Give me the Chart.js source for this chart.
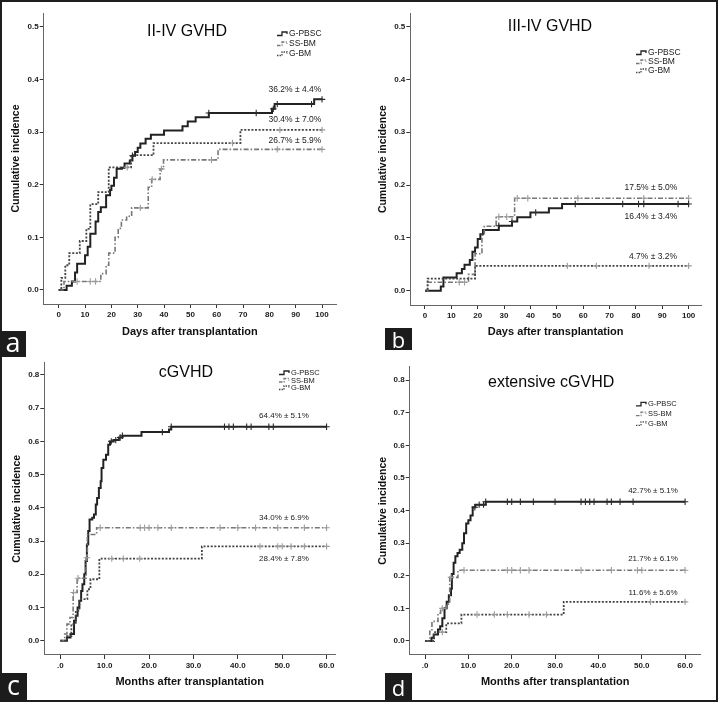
<!DOCTYPE html>
<html><head><meta charset="utf-8">
<script src="https://cdn.jsdelivr.net/npm/chart.js@4.4.0/dist/chart.umd.min.js"></script>
<style>
html,body{margin:0;padding:0;background:#fff;}
#frame{position:absolute;left:0;top:0;width:718px;height:702px;box-sizing:border-box;border:2px solid #1e1e1e;}
canvas{position:absolute;}
.tag{position:absolute;background:#1c1c1c;color:#fff;font-family:"Open Sans",sans-serif;display:flex;align-items:center;justify-content:center;line-height:1;box-sizing:border-box;}
</style></head><body>
<div id="frame"></div>
<canvas id="ca" width="358" height="351" style="left:0;top:0"></canvas>
<canvas id="cb" width="358" height="351" style="left:358px;top:0"></canvas>
<canvas id="cc" width="358" height="351" style="left:0;top:351px"></canvas>
<canvas id="cd" width="358" height="351" style="left:358px;top:351px"></canvas>
<div class="tag" style="left:0;top:331px;width:26px;height:26px;font-size:27px;padding-bottom:6px">a</div>
<div class="tag" style="left:385px;top:328px;width:27px;height:22px;font-size:22px">b</div>
<div class="tag" style="left:0;top:673px;width:27px;height:28px;font-size:27px;padding-bottom:6px">c</div>
<div class="tag" style="left:385px;top:673px;width:27px;height:27px;font-size:22px">d</div>
<script>
// ===== DATA =====
const panelTitles = ['II-IV GVHD', 'III-IV GVHD', 'cGVHD', 'extensive cGVHD'];
const seriesNames = ['G-PBSC', 'SS-BM', 'G-BM'];
const xAxisTitles = ['Days after transplantation', 'Days after transplantation', 'Months after transplantation', 'Months after transplantation'];
const yAxisTitle = 'Cumulative incidence';

const dayTicks = [0, 10, 20, 30, 40, 50, 60, 70, 80, 90, 100];
const dayTickLabels = ['0', '10', '20', '30', '40', '50', '60', '70', '80', '90', '100'];
const monthTicks = [0, 10, 20, 30, 40, 50, 60];
const monthTickLabels = ['.0', '10.0', '20.0', '30.0', '40.0', '50.0', '60.0'];
const agvhdTicks = [0, 0.1, 0.2, 0.3, 0.4, 0.5];
const agvhdTickLabels = ['0.0', '0.1', '0.2', '0.3', '0.4', '0.5'];
const cgvhdTicks = [0, 0.1, 0.2, 0.3, 0.4, 0.5, 0.6, 0.7, 0.8];
const cgvhdTickLabels = ['0.0', '0.1', '0.2', '0.3', '0.4', '0.5', '0.6', '0.7', '0.8'];

// Panel a: II-IV GVHD
const aPbscT = [0,3,5,6.2,7,10,11,12,14,15,16,18,19.5,20,21,22,24,25,27,28,29,30,31,33,35,40,47,49,52,57,81,82,97,100];
const aPbscV = [0,.008,.016,.033,.05,.066,.082,.107,.13,.148,.157,.18,.19,.198,.213,.23,.232,.24,.246,.255,.262,.27,.278,.287,.295,.303,.311,.32,.328,.336,.344,.353,.362,.362];
const aPbscCens = [28,57,75,81.5,83,96,100];
const aSsbmT = [0,2,16,18,19,21.4,22.6,23.8,25.8,27.7,34,35.3,38.5,39.8,60.5,100];
const aSsbmV = [0,.016,.031,.047,.07,.1,.117,.133,.14,.156,.195,.21,.23,.247,.267,.267];
const aSsbmCens = [7,12,14,31,35.5,39,58,83,100];
const aGbmT = [0,1,2.5,4,8,10.5,12,15,19,27.5,36,69,100];
const aGbmV = [0,.023,.047,.07,.093,.116,.163,.186,.233,.256,.279,.304,.304];
const aGbmCens = [26,66,84,100];
const aNotes = ['36.2% \u00b1 4.4%', '30.4% \u00b1 7.0%', '26.7% \u00b1 5.9%'];

// Panel b: III-IV GVHD
const bPbscT = [0,6,7,12,14,15,17,18,19,20,21,22,28,33,35,40,47,52,100];
const bPbscV = [0,.008,.025,.033,.041,.049,.058,.074,.082,.098,.107,.115,.123,.131,.139,.148,.156,.164,.164];
const bPbscCens = [28,33,42,57,75,81,83,96,100];
const bSsbmT = [0,1,16.5,19,21.6,22.5,27,34,100];
const bSsbmV = [0,.016,.031,.07,.105,.122,.14,.175,.175];
const bSsbmCens = [13,15,28,31,35,39,58,83,100];
const bGbmT = [0,1,19,100];
const bGbmV = [0,.023,.047,.047];
const bGbmCens = [54,65,85,100];
const bNotes = ['17.5% \u00b1 5.0%', '16.4% \u00b1 3.4%', '4.7% \u00b1 3.2%'];

// Panel c: cGVHD
const cPbscT = [0,1.5,2.3,3.1,3.5,3.9,4.3,4.7,5.0,5.4,5.7,6.0,6.3,6.6,7.2,7.6,8.0,8.3,8.7,9.1,9.3,9.7,10.3,10.8,11.2,12.0,13.2,14,18.3,24.5,25,60];
const cPbscV = [0,.01,.02,.06,.075,.1,.12,.15,.17,.2,.24,.29,.33,.365,.37,.38,.41,.43,.46,.48,.52,.545,.56,.59,.6,.604,.612,.617,.628,.636,.644,.644];
const cPbscCens = [11.5,12.5,13.5,14,23,25,37,38,39,42,43,47,48,60];
const cSsbmT = [0,1,1.5,2.2,2.9,3.8,5.8,6.1,8.2,60];
const cSsbmV = [0,.02,.05,.07,.145,.188,.25,.32,.34,.34];
const cSsbmCens = [3,4,6,9,18,19,20,22,25,36,40,44,49,55,60];
const cGbmT = [0,1.5,2.5,3.5,4.3,6.1,6.8,8.8,31.9,60];
const cGbmV = [0,.014,.05,.09,.125,.155,.185,.247,.284,.284];
const cGbmCens = [11.6,14.2,17.9,45,49,50,52,55,60];
const cNotes = ['64.4% \u00b1 5.1%', '34.0% \u00b1 6.9%', '28.4% \u00b1 7.8%'];

// Panel d: extensive cGVHD
const dPbscT = [0,1.5,2,3,3.5,4,4.5,5,5.5,6,6.2,6.6,7,7.5,8,8.6,9,9.5,10,10.5,11,11.6,14,60];
const dPbscV = [0,.01,.02,.035,.045,.07,.1,.12,.14,.16,.205,.24,.26,.27,.28,.3,.33,.36,.37,.385,.41,.418,.427,.427];
const dPbscCens = [11.5,12.5,13.5,14,19,20,22,25,30,36,37,38,39,42,43,45,48,60];
const dSsbmT = [0,1.1,1.6,3,3.6,4.9,5.7,7.6,60];
const dSsbmV = [0,.03,.06,.085,.1,.113,.195,.217,.217];
const dSsbmCens = [4,6,9,19,20,22,24,36,43,49,50,60];
const dGbmT = [0,2.1,4.9,8.4,32,60];
const dGbmV = [0,.027,.054,.081,.12,.12];
const dGbmCens = [4,12,16,19,24,28,52,60];
const dNotes = ['42.7% \u00b1 5.1%', '21.7% \u00b1 6.1%', '11.6% \u00b1 5.6%'];

// ===== LAYOUT / STYLE =====
const FONT = '"Liberation Sans", Arial, sans-serif';
const seriesStyle = [
  {color:'#222222', width:2, dash:[], cens:'#2a2a2a'},
  {color:'#777777', width:1.6, dash:[5,2,1.5,2], cens:'#9c9c9c'},
  {color:'#444444', width:1.8, dash:[2,1.6], cens:'#9c9c9c'}
];
const layouts = [
  {id:'ca', W:358, H:351, area:[43.7,13,336,304], yTitleX:16, xTitleY:332, xr:[-5.7,105.3], yr:[-0.0266,0.526],
   titleAt:[48.7,0.491], notesAt:[[89.7,0.381],[89.7,0.324],[89.7,0.283]], noteSize:8.5,
   legend:{x:277,y:34,dy:10,size:8.5}},
  {id:'cb', W:358, H:351, area:[52.3,13.3,343,305], yTitleX:25, xTitleY:332, xr:[-5.57,104.7], yr:[-0.027,0.525],
   titleAt:[47.4,0.499], notesAt:[[85.7,0.1945],[85.7,0.1396],[86.5,0.0638]], noteSize:8.5,
   legend:{x:278,y:53,dy:9,size:8.5}},
  {id:'cc', W:358, H:351, area:[44.3,11.7,335,304], yTitleX:17, xTitleY:331, xr:[-3.6,61.9], yr:[-0.043,0.837],
   titleAt:[28.3,0.806], notesAt:[[50.4,0.677],[50.4,0.369],[50.4,0.246]], noteSize:8,
   legend:{x:279,y:22,dy:7.5,size:7.5}},
  {id:'cd', W:358, H:351, area:[51.7,15.7,342.7,304], yTitleX:25, xTitleY:330.7, xr:[-3.53,63.6], yr:[-0.043,0.841],
   titleAt:[29.1,0.791], notesAt:[[52.6,0.46],[52.6,0.251],[52.6,0.147]], noteSize:8,
   legend:{x:278,y:53.3,dy:9.8,size:7.5}}
];

const panels = [
  {series:[[aPbscT,aPbscV,aPbscCens],[aSsbmT,aSsbmV,aSsbmCens],[aGbmT,aGbmV,aGbmCens]], notes:aNotes,
   xt:dayTicks, xl:dayTickLabels, yt:agvhdTicks, yl:agvhdTickLabels},
  {series:[[bPbscT,bPbscV,bPbscCens],[bSsbmT,bSsbmV,bSsbmCens],[bGbmT,bGbmV,bGbmCens]], notes:bNotes,
   xt:dayTicks, xl:dayTickLabels, yt:agvhdTicks, yl:agvhdTickLabels},
  {series:[[cPbscT,cPbscV,cPbscCens],[cSsbmT,cSsbmV,cSsbmCens],[cGbmT,cGbmV,cGbmCens]], notes:cNotes,
   xt:monthTicks, xl:monthTickLabels, yt:cgvhdTicks, yl:cgvhdTickLabels},
  {series:[[dPbscT,dPbscV,dPbscCens],[dSsbmT,dSsbmV,dSsbmCens],[dGbmT,dGbmV,dGbmCens]], notes:dNotes,
   xt:monthTicks, xl:monthTickLabels, yt:cgvhdTicks, yl:cgvhdTickLabels}
];

function stepValue(T, V, t) {
  let v = V[0];
  for (let i = 0; i < T.length; i++) if (T[i] <= t) v = V[i];
  return v;
}

function buildChart(pi) {
  const P = panels[pi], L = layouts[pi];
  const yTitleSize = 10.5, xTitleSize = 11;
  const padLeft = L.yTitleX - yTitleSize * 1.2 / 2;
  const padBottom = L.H - L.xTitleY - xTitleSize * 1.2 / 2;
  const datasets = [];
  P.series.forEach((s, k) => {
    const st = seriesStyle[k];
    datasets.push({
      label: seriesNames[k],
      data: s[0].map((t, i) => ({x: t, y: s[1][i]})),
      stepped: true, borderColor: st.color, borderWidth: st.width, borderDash: st.dash,
      pointRadius: 0, fill: false, tension: 0, order: 3 - k
    });
  });
  P.series.forEach((s, k) => {
    const st = seriesStyle[k];
    datasets.push({
      label: seriesNames[k] + ' censored',
      data: s[2].map(t => ({x: t, y: stepValue(s[0], s[1], t)})),
      showLine: false, pointStyle: 'cross', pointRadius: 3.2, pointBorderWidth: 1.1,
      pointBorderColor: st.cens, pointBackgroundColor: st.cens, borderColor: st.cens, order: 0
    });
  });

  const textPlugin = {
    id: 'panelText',
    afterDatasetsDraw(chart) {
      const ctx = chart.ctx, xs = chart.scales.x, ys = chart.scales.y;
      ctx.save();
      ctx.fillStyle = '#0a0a0a';
      ctx.font = '16px ' + FONT;
      ctx.textAlign = 'center'; ctx.textBaseline = 'middle';
      ctx.fillText(panelTitles[pi], xs.getPixelForValue(L.titleAt[0]), ys.getPixelForValue(L.titleAt[1]));
      ctx.fillStyle = '#1a1a1a';
      ctx.font = L.noteSize + 'px ' + FONT;
      P.notes.forEach((n, i) => {
        ctx.fillText(n, xs.getPixelForValue(L.notesAt[i][0]), ys.getPixelForValue(L.notesAt[i][1]));
      });
      const lg = L.legend;
      ctx.textAlign = 'left';
      ctx.font = lg.size + 'px ' + FONT;
      seriesNames.forEach((nm, k) => {
        const st = seriesStyle[k];
        const y = lg.y + k * lg.dy, x = lg.x;
        ctx.strokeStyle = st.color; ctx.lineWidth = 1.3;
        ctx.setLineDash(st.dash.map(d => d * 0.7));
        ctx.beginPath();
        ctx.moveTo(x, y + 1.5); ctx.lineTo(x + 5, y + 1.5); ctx.lineTo(x + 5, y - 2);
        ctx.lineTo(x + 10, y - 2); ctx.lineTo(x + 10, y);
        ctx.stroke();
        ctx.setLineDash([]);
        ctx.fillStyle = '#1a1a1a';
        ctx.fillText(nm, x + 12, y);
      });
      ctx.restore();
    }
  };

  const tickFont = {family: FONT, size: 8, weight: 'bold'};
  return new Chart(document.getElementById(L.id), {
    type: 'line',
    data: {datasets},
    options: {
      responsive: false, animation: false, devicePixelRatio: 1,
      events: [],
      layout: {padding: {left: padLeft, top: L.area[1], right: L.W - L.area[2], bottom: padBottom}},
      plugins: {legend: {display: false}, tooltip: {enabled: false}, title: {display: false}},
      scales: {
        x: {
          type: 'linear', min: L.xr[0], max: L.xr[1],
          afterBuildTicks: s => { s.ticks = P.xt.map(v => ({value: v})); },
          afterFit: s => { s.height = L.H - padBottom - L.area[3]; },
          ticks: {autoSkip: false, maxRotation: 0, padding: 2, color: '#1a1a1a', font: tickFont,
                  callback: (v, i) => P.xl[i]},
          grid: {drawOnChartArea: false, drawTicks: true, tickLength: 4, color: '#333', lineWidth: 1},
          border: {display: true, color: '#666', width: 1},
          title: {display: true, text: xAxisTitles[pi], color: '#111', padding: 0,
                  font: {family: FONT, size: xTitleSize, weight: 'bold'}}
        },
        y: {
          type: 'linear', min: L.yr[0], max: L.yr[1],
          afterBuildTicks: s => { s.ticks = P.yt.map(v => ({value: v})); },
          afterFit: s => { s.width = L.area[0] - padLeft; },
          ticks: {autoSkip: false, padding: 1, color: '#1a1a1a', font: tickFont,
                  callback: (v, i) => P.yl[i]},
          grid: {drawOnChartArea: false, drawTicks: true, tickLength: 4, color: '#333', lineWidth: 1},
          border: {display: true, color: '#666', width: 1},
          title: {display: true, text: yAxisTitle, color: '#111', padding: 0,
                  font: {family: FONT, size: yTitleSize, weight: 'bold'}}
        }
      }
    },
    plugins: [textPlugin]
  });
}
[0, 1, 2, 3].forEach(buildChart);
</script>
</body></html>
